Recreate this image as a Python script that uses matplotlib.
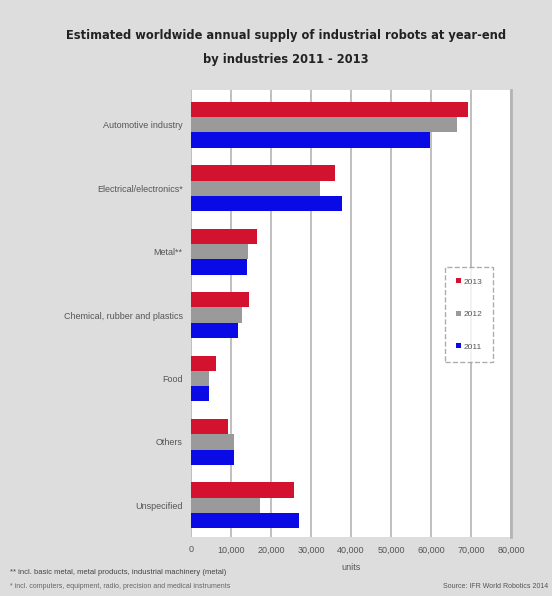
import numpy as np
import matplotlib
matplotlib.use("Agg")
import matplotlib.pyplot as plt
from matplotlib.ticker import FuncFormatter

plt.rcParams['font.family'] = ['Liberation Sans Narrow', 'Liberation Sans', 'DejaVu Sans']

industries = ["Automotive industry", "Electrical/electronics*", "Metal**",
              "Chemical, rubber and plastics", "Food", "Others", "Unspecified"]
years = ["2013", "2012", "2011"]
units_2013 = [69300, 36000, 16500, 14500, 6200, 9300, 25800]
units_2012 = [66400, 32300, 14300, 12700, 4500, 10800, 17300]
units_2011 = [59700, 37700, 13900, 11800, 4600, 10800, 27000]
xticks = [0, 10000, 20000, 30000, 40000, 50000, 60000, 70000, 80000]

colors = ["#d3122f", "#9a9a9a", "#0a0ae6"]

fig = plt.figure(figsize=(5.52, 5.96), dpi=100, facecolor="#dddddd")
ax = fig.add_axes([191/552, 1-537/596, 320/552, 447/596])
ax.set_facecolor("white")

y = np.arange(len(industries))
h = 0.24
for i, (vals, yr) in enumerate(zip([units_2013, units_2012, units_2011], years)):
    ax.barh(y + (i - 1) * h, vals, height=h, color=colors[i], label=yr, zorder=3)

ax.set_xlim(0, 80000)
ax.set_ylim(6.5, -0.55)
ax.set_xticks(xticks)
ax.xaxis.set_major_formatter(FuncFormatter(lambda v, p: "0" if v == 0 else "{:,.0f}".format(v)))
ax.set_yticks(y)
ax.set_yticklabels(industries)
ax.tick_params(axis="y", length=0, pad=6, labelsize=6.5, labelcolor="#555555")
ax.tick_params(axis="x", length=0, pad=6, labelsize=6.5, labelcolor="#555555")
ax.grid(axis="x", color="#b4b4b4", lw=1.2, zorder=1)
for s in ["top", "bottom", "left"]:
    ax.spines[s].set_visible(False)
ax.spines["right"].set_color("#b4b4b4")
ax.spines["right"].set_linewidth(2)

ax.set_xlabel("units", fontsize=6.5, color="#555555", labelpad=6)

leg = ax.legend(loc="upper left", bbox_to_anchor=((441-191)/320, 1-(263-90)/447),
                fontsize=6, frameon=True, handlelength=0.6, handleheight=0.6,
                labelspacing=3.0, borderpad=1.3, handletextpad=0.3, labelcolor="#555555")
leg.get_frame().set_edgecolor("#999999")
leg.get_frame().set_linestyle("--")
leg.get_frame().set_boxstyle("square", pad=0)

title_font = dict(family="DejaVu Sans", stretch="condensed", fontsize=9.2,
                  fontweight="bold", color="#222222")
fig.text(286/552, 1-35/596, "Estimated worldwide annual supply of industrial robots at year-end",
         ha="center", va="center", **title_font)
fig.text(286/552, 1-59/596, "by industries 2011 - 2013",
         ha="center", va="center", **title_font)

fig.text(10/552, 1-573/596, "** incl. basic metal, metal products, industrial machinery (metal)",
         ha="left", va="center", fontsize=5.5, color="#444444")
fig.text(10/552, 1-586/596, "* incl. computers, equipment, radio, precision and medical instruments",
         ha="left", va="center", fontsize=5, color="#666666")
fig.text(548/552, 1-586/596, "Source: IFR World Robotics 2014",
         ha="right", va="center", fontsize=5, color="#555555")

fig.savefig("out.png", dpi=100, facecolor=fig.get_facecolor())
